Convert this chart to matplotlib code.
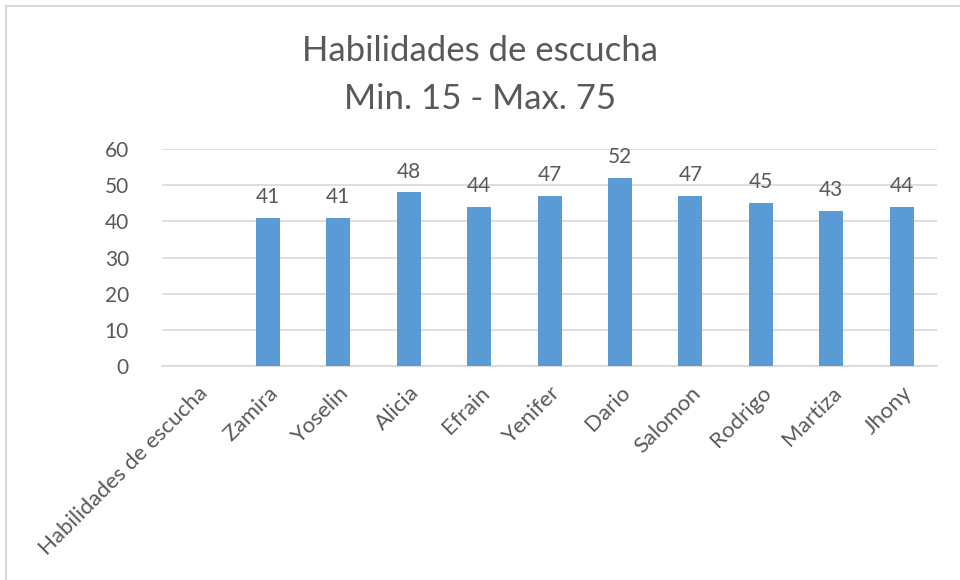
import matplotlib.pyplot as plt
from matplotlib.patches import Rectangle

plt.rcParams['font.family'] = ['Lato', 'DejaVu Sans']

categories = ['Habilidades de escucha', 'Zamira', 'Yoselin', 'Alicia', 'Efrain',
              'Yenifer', 'Dario', 'Salomon', 'Rodrigo', 'Martiza', 'Jhony']
values = [None, 41, 41, 48, 44, 47, 52, 47, 45, 43, 44]
yticks = [0, 10, 20, 30, 40, 50, 60]

grey = '#595959'
bar_color = '#5B9BD5'

fig = plt.figure(figsize=(9.6, 5.8), dpi=100)
ax = fig.add_axes([0.169, 0.369, 0.807, 0.374])

xs = [i for i, v in enumerate(values) if v is not None]
hs = [v for v in values if v is not None]
bars = ax.bar(xs, hs, width=0.34, color=bar_color, zorder=3)
for x, h in zip(xs, hs):
    ax.text(x, h + 3.0, str(h), ha='center', va='bottom', fontsize=15, color=grey)

ax.set_xlim(-0.5, len(categories) - 0.5)
ax.set_ylim(0, 60)
ax.set_yticks(yticks)
ax.set_xticks(range(len(categories)))
ax.set_xticklabels(categories, rotation=45, ha='right', rotation_mode='anchor',
                   fontsize=16, color=grey)
ax.tick_params(axis='y', labelsize=15, colors=grey, length=0, pad=24)
ax.tick_params(axis='x', length=0, pad=12)
ax.grid(axis='y', color='#D9D9D9', linewidth=1.2, zorder=0)
for s in ['top', 'right', 'left']:
    ax.spines[s].set_visible(False)
ax.spines['bottom'].set_color('#D9D9D9')
ax.spines['bottom'].set_linewidth(1.2)

fig.text(0.5, 0.912, 'Habilidades de escucha', ha='center', va='center',
         fontsize=25, color=grey)
fig.text(0.5, 0.83, 'Min. 15 - Max. 75', ha='center', va='center',
         fontsize=25, color=grey)

fig.patches.append(Rectangle((0.006, -0.01), 1.0, 1.0, transform=fig.transFigure,
                             fill=False, edgecolor='#D9D9D9', linewidth=1.5))

fig.savefig('out.png', dpi=100)
